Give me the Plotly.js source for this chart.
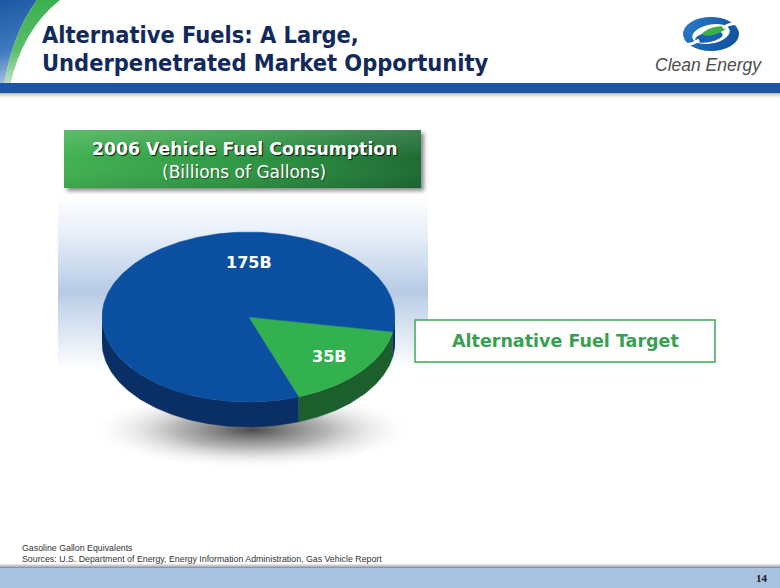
<!DOCTYPE html>
<html><head><meta charset="utf-8">
<script src="https://cdn.plot.ly/plotly-3.0.1.min.js"></script>
<style>html,body{margin:0;padding:0;background:#fff;}#chart{width:780px;height:588px;}</style>
</head><body><div id="chart"></div>
<script>
// ---------- data ----------
const categories = ['Alternative Fuel Target', 'Conventional Vehicle Fuel'];
const values = [35, 175];
const sliceLabels = ['35B', '175B'];
const chartTitle = ['Alternative Fuels: A Large,', 'Underpenetrated Market Opportunity'];
const boxTitle = ['2006 Vehicle Fuel Consumption', '(Billions of Gallons)'];
const calloutText = 'Alternative Fuel Target';
const footnotes = ['Gasoline Gallon Equivalents', 'Sources: U.S. Department of Energy, Energy Information Administration, Gas Vehicle Report'];
const pageNumber = '14';
const logoText = 'Clean Energy';

// ---------- layout helpers ----------
const W = 780, H = 588;
const px = x => x / W, py = y => 1 - y / H;

// pie styling / geometry
const PIE_L = 102, PIE_R = 395, PIE_CY = 317, PIE_TOP = 200, PIE_BOT = 460;
const S = (PIE_R - PIE_L) / 2;
const START = -10;          // degrees, first slice edge
const K = 85 / S;           // vertical squash of the tilted disc
const D = 25 / S;           // disc thickness
const topColors = ['#33B14F', '#0B50A0'];
const sideColors = ['#1D5F2C', '#0A2F64'];
const labelPos = [{ang: null, r: 0.72}, {ang: 90, r: 0.64}];

const rad = d => d * Math.PI / 180;
const total = values.reduce((a, b) => a + b, 0);
let acc = START;
const slices = values.map(v => {
  const span = v / total * 360;
  const s = {a1: acc, a2: acc - span};
  acc -= span;
  return s;
});

const traces = [];
// sides (front half only)
slices.forEach((s, i) => {
  for (let k = -2; k <= 1; k++) {
    const lo = Math.max(s.a2, -180 + 360 * k), hi = Math.min(s.a1, 360 * k);
    if (lo < hi) {
      const xs = [], ys = [];
      for (let t = hi; t > lo; t -= 1) { xs.push(Math.cos(rad(t))); ys.push(K * Math.sin(rad(t))); }
      xs.push(Math.cos(rad(lo))); ys.push(K * Math.sin(rad(lo)));
      for (let t = lo; t < hi; t += 1) { xs.push(Math.cos(rad(t))); ys.push(K * Math.sin(rad(t)) - D); }
      xs.push(Math.cos(rad(hi))); ys.push(K * Math.sin(rad(hi)) - D);
      traces.push({type: 'scatter', mode: 'lines', x: xs, y: ys, fill: 'toself',
        fillcolor: sideColors[i], line: {color: sideColors[i], width: 0.5},
        name: categories[i], hoverinfo: 'skip', showlegend: false});
    }
  }
});
// top faces
slices.forEach((s, i) => {
  const xs = [0], ys = [0];
  for (let t = s.a1; t > s.a2; t -= 1) { xs.push(Math.cos(rad(t))); ys.push(K * Math.sin(rad(t))); }
  xs.push(Math.cos(rad(s.a2))); ys.push(K * Math.sin(rad(s.a2)));
  xs.push(0); ys.push(0);
  traces.push({type: 'scatter', mode: 'lines', x: xs, y: ys, fill: 'toself',
    fillcolor: topColors[i], line: {color: topColors[i], width: 0.5},
    name: categories[i] + ': ' + values[i], hoverinfo: 'name', showlegend: false});
});

// ---------- decorative canvases ----------
function canvasImg(w, h, draw) {
  const c = document.createElement('canvas'); c.width = w; c.height = h;
  draw(c.getContext('2d'), w, h); return c.toDataURL();
}
function img(src, x, y, w, h, layer) {
  return {source: src, xref: 'paper', yref: 'paper', x: px(x), y: py(y), sizex: w / W, sizey: h / H,
    xanchor: 'left', yanchor: 'top', sizing: 'stretch', layer: layer || 'below'};
}
const bandImg = canvasImg(370, 175, (g, w, h) => {
  const gr = g.createLinearGradient(0, 0, 0, h);
  gr.addColorStop(0, 'rgba(255,255,255,1)');
  gr.addColorStop(0.22, '#E8EFF8');
  gr.addColorStop(0.55, '#B7CBE5');
  gr.addColorStop(0.72, '#D3DFEF');
  gr.addColorStop(1, 'rgba(255,255,255,1)');
  g.fillStyle = gr; g.fillRect(0, 0, w, h);
});
const shadowImg = canvasImg(340, 90, (g, w, h) => {
  g.translate(w / 2, 40); g.scale(1, 0.24);
  const gr = g.createRadialGradient(0, 0, 0, 0, 0, 165);
  gr.addColorStop(0, 'rgba(55,55,55,0.9)');
  gr.addColorStop(0.45, 'rgba(105,105,105,0.5)');
  gr.addColorStop(1, 'rgba(255,255,255,0)');
  g.fillStyle = gr; g.fillRect(-170, -190, 340, 380);
});
const greenBoxImg = canvasImg(368, 68, (g, w, h) => {
  g.save();
  g.shadowColor = 'rgba(0,0,0,0.45)'; g.shadowBlur = 4; g.shadowOffsetX = 3; g.shadowOffsetY = 3;
  const gr = g.createLinearGradient(2, 0, 359, 0);
  gr.addColorStop(0, '#41B151'); gr.addColorStop(0.5, '#2F9844'); gr.addColorStop(1, '#1D6B33');
  g.fillStyle = gr; g.fillRect(2, 2, 357, 58);
  g.restore();
  const sh = g.createLinearGradient(0, 2, 0, 60);
  sh.addColorStop(0, 'rgba(255,255,255,0.15)'); sh.addColorStop(0.5, 'rgba(255,255,255,0)'); sh.addColorStop(1, 'rgba(0,0,0,0.08)');
  g.fillStyle = sh; g.fillRect(2, 2, 357, 58);
});
const swooshImg = canvasImg(70, 86, (g, w, h) => {
  const gb = g.createLinearGradient(0, 0, 30, 86);
  gb.addColorStop(0, '#1B56A3'); gb.addColorStop(0.55, '#3F7BBE'); gb.addColorStop(1, '#CBDAEC');
  g.beginPath(); g.moveTo(0, 0); g.lineTo(37, 0); g.quadraticCurveTo(12, 34, 4, 86); g.lineTo(0, 86); g.closePath();
  g.fillStyle = gb; g.fill();
  const gg = g.createLinearGradient(0, 0, 10, 86);
  gg.addColorStop(0, '#36AE4A'); gg.addColorStop(0.6, '#5DBE6B'); gg.addColorStop(1, '#C6E6CB');
  g.beginPath(); g.moveTo(37, 0); g.lineTo(60, 0); g.quadraticCurveTo(22, 30, 10, 86); g.lineTo(4, 86);
  g.quadraticCurveTo(12, 34, 37, 0); g.closePath();
  g.fillStyle = gg; g.fill();
});
const logoImg = canvasImg(60, 38, (g, w, h) => {
  g.translate(30, 19);
  const gb = g.createLinearGradient(-28, -17, 28, 17);
  gb.addColorStop(0, '#2B7CC9'); gb.addColorStop(1, '#0C4C9A');
  g.beginPath(); g.ellipse(0, 0, 28, 17, 0, 0, 2 * Math.PI); g.fillStyle = gb; g.fill();
  g.beginPath(); g.ellipse(0, 0, 19, 9.5, -0.2, 0, 2 * Math.PI); g.fillStyle = '#fff'; g.fill();
  g.beginPath(); g.ellipse(-2, 3, 14, 5, -0.2, 0, 2 * Math.PI); g.fillStyle = '#1560B0'; g.fill();
  g.beginPath(); g.ellipse(3, -3, 12, 3.6, -0.28, 0, 2 * Math.PI); g.fillStyle = '#3DAF49'; g.fill();
  g.strokeStyle = '#fff'; g.lineWidth = 3;
  g.beginPath(); g.moveTo(12, -6); g.quadraticCurveTo(20, -12, 30, -10); g.stroke();
  g.beginPath(); g.moveTo(-12, 6); g.quadraticCurveTo(-20, 12, -30, 10); g.stroke();
});
const barShadowImg = canvasImg(780, 7, (g, w, h) => {
  const gr = g.createLinearGradient(0, 0, 0, h);
  gr.addColorStop(0, 'rgba(90,90,90,0.45)'); gr.addColorStop(1, 'rgba(255,255,255,0)');
  g.fillStyle = gr; g.fillRect(0, 0, w, h);
});
const footShadowImg = canvasImg(780, 4, (g, w, h) => {
  const gr = g.createLinearGradient(0, 0, 0, h);
  gr.addColorStop(0, 'rgba(200,200,200,0.4)'); gr.addColorStop(1, 'rgba(110,120,135,0.9)');
  g.fillStyle = gr; g.fillRect(0, 0, w, h);
});

const images = [
  img(swooshImg, 0, 0, 70, 86),
  img(barShadowImg, 0, 93, 780, 7),
  img(bandImg, 58, 195, 370, 175),
  img(shadowImg, 82, 390, 340, 90),
  img(greenBoxImg, 62, 128, 368, 68),
  img(logoImg, 681, 15, 60, 38),
  img(footShadowImg, 0, 564, 780, 4)
];

const shapes = [
  {type: 'rect', xref: 'paper', yref: 'paper', x0: 0, x1: 1, y0: py(83), y1: py(93), fillcolor: '#1B55A4', line: {width: 0}, layer: 'below'},
  {type: 'rect', xref: 'paper', yref: 'paper', x0: 0, x1: 1, y0: py(568), y1: py(588), fillcolor: '#A8C2DF', line: {width: 0}, layer: 'below'},
  {type: 'rect', xref: 'paper', yref: 'paper', x0: px(415), x1: px(715), y0: py(320), y1: py(362), fillcolor: '#FFFFFF', line: {color: '#3DA85A', width: 1.5}, layer: 'above'}
];

const condB = 'DejaVu Sans Condensed, DejaVu Sans, sans-serif';
const wide = 'DejaVu Sans, Verdana, sans-serif';
const ann = (text, x, y, font, xa, ya, extra) => Object.assign({text, x: px(x), y: py(y), xref: 'paper', yref: 'paper',
  showarrow: false, font, xanchor: xa || 'center', yanchor: ya || 'middle'}, extra || {});

const annotations = [
  ann('<b>' + chartTitle[0] + '</b>', 40, 35, {family: condB, size: 23.4, color: '#12295B'}, 'left'),
  ann('<b>' + chartTitle[1] + '</b>', 40, 63, {family: condB, size: 23.4, color: '#12295B'}, 'left'),
  ann('<i>' + logoText + '</i>', 708, 65, {family: 'Liberation Sans, Arial, sans-serif', size: 17.5, color: '#4D4D4D'}),
  ann('<b>' + boxTitle[0] + '</b>', 244, 149, {family: wide, size: 17.3, color: '#FFFFFF', shadow: '1px 1px 1px rgba(0,0,0,0.85)'}),
  ann(boxTitle[1], 244, 172, {family: wide, size: 17, color: '#FFFFFF', shadow: '1px 1px 1px rgba(0,0,0,0.4)'}),
  ann('<b>' + calloutText + '</b>', 565, 341, {family: wide, size: 17.5, color: '#3A9E53'}),
  ann(footnotes[0], 20, 548, {family: 'Liberation Sans, Arial, sans-serif', size: 8.8, color: '#333333'}, 'left'),
  ann(footnotes[1], 20, 559, {family: 'Liberation Sans, Arial, sans-serif', size: 8.8, color: '#333333'}, 'left'),
  ann('<b>' + pageNumber + '</b>', 762, 578, {family: 'Liberation Serif, serif', size: 11, color: '#1A1A1A'})
];
// slice labels, placed through the pie's own axes
slices.forEach((s, i) => {
  const ang = labelPos[i].ang !== null ? labelPos[i].ang : (s.a1 + s.a2) / 2;
  annotations.push({text: '<b>' + sliceLabels[i] + '</b>', xref: 'x', yref: 'y',
    x: labelPos[i].r * Math.cos(rad(ang)), y: labelPos[i].r * K * Math.sin(rad(ang)),
    showarrow: false, font: {family: 'DejaVu Sans, sans-serif', size: 16, color: '#FFFFFF'}});
});

const layout = {
  width: W, height: H, margin: {l: 0, r: 0, t: 0, b: 0},
  paper_bgcolor: '#FFFFFF', plot_bgcolor: 'rgba(0,0,0,0)',
  xaxis: {domain: [px(PIE_L), px(PIE_R)], range: [-1, 1], visible: false, fixedrange: true},
  yaxis: {domain: [py(PIE_BOT), py(PIE_TOP)], range: [-(PIE_BOT - PIE_CY) / S, (PIE_CY - PIE_TOP) / S], visible: false, fixedrange: true},
  images, shapes, annotations, showlegend: false
};
Plotly.newPlot('chart', traces, layout, {displayModeBar: false, staticPlot: true});
</script></body></html>
